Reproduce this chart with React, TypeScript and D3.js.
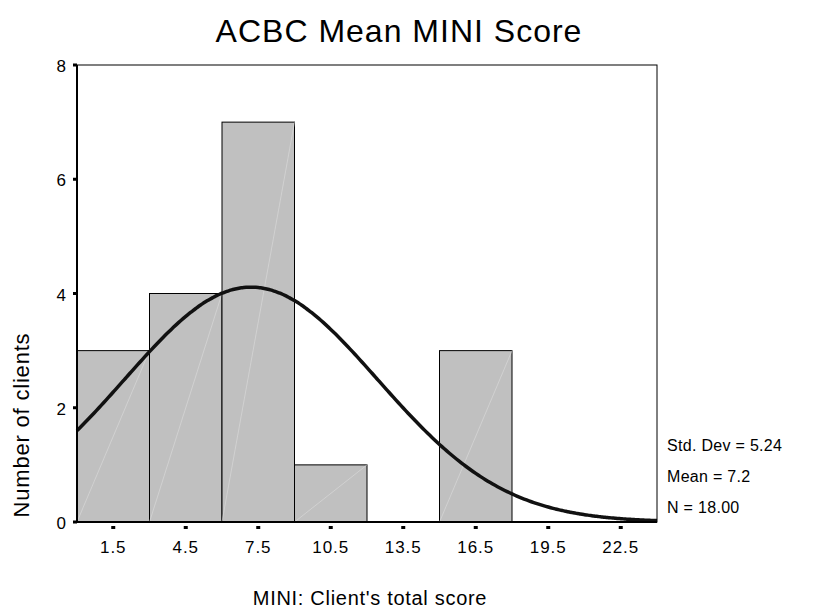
import React from 'react';
import * as d3 from 'd3';

// histogram bins (width 3) and counts
const binStarts = [0, 3, 6, 9, 12, 15, 18, 21];
const counts = [3, 4, 7, 1, 0, 3, 0, 0];
const xTicks = [1.5, 4.5, 7.5, 10.5, 13.5, 16.5, 19.5, 22.5];
const yTicks = [0, 2, 4, 6, 8];
const statLines = ['Std. Dev = 5.24', 'Mean = 7.2', 'N = 18.00'];
const stdDev = 5.24;
const mean = 7.2;
const nCases = 18;
const binWidth = 3;

export default function App() {
  const W = 814, H = 611;
  const box = {left: 77, top: 65, right: 657, bottom: 522};
  const font = 'Liberation Sans, Arial, sans-serif';

  const x = d3.scaleLinear().domain([0, 24]).range([box.left, box.right]);
  const y = d3.scaleLinear().domain([0, 8]).range([box.bottom, box.top]);

  // fitted normal curve from the reported stats
  const dens = (v: number) =>
    (nCases * binWidth) / (stdDev * Math.sqrt(2 * Math.PI)) *
    Math.exp(-0.5 * ((v - mean) / stdDev) ** 2);
  const curvePts = d3.range(0, 24.01, 0.1).map(v => [v, dens(v)] as [number, number]);
  const line = d3.line<[number, number]>().x(d => x(d[0])).y(d => y(d[1])).curve(d3.curveBasis);

  return (
    <svg width={W} height={H} style={{position: 'absolute', left: 0, top: 0, background: '#fff'}}>
      <text x={399} y={42} textAnchor="middle" fontFamily={font} fontSize={32} letterSpacing={1}>ACBC Mean MINI Score</text>

      {binStarts.map((b, i) => counts[i] > 0 && (
        <g key={i}>
          <rect x={x(b)} y={y(counts[i])} width={x(b + binWidth) - x(b)} height={y(0) - y(counts[i])}
            fill="#c0c0c0" stroke="#000" strokeWidth={1} />
          <line x1={x(b)} y1={y(0)} x2={x(b + binWidth)} y2={y(counts[i])} stroke="#dcdcdc" strokeWidth={0.6} />
        </g>
      ))}

      <path d={line(curvePts) || ''} fill="none" stroke="#111" strokeWidth={3.5} />

      <rect x={box.left} y={box.top} width={box.right - box.left} height={box.bottom - box.top}
        fill="none" stroke="#000" strokeWidth={1} />
      <line x1={box.left} y1={box.top} x2={box.left} y2={box.bottom} stroke="#000" strokeWidth={2} />
      <line x1={box.left} y1={box.bottom} x2={box.right} y2={box.bottom} stroke="#000" strokeWidth={2} />

      {yTicks.map(t => (
        <g key={t}>
          <rect x={box.left - 4} y={y(t) - 1.5} width={4} height={3} fill="#000" />
          <text x={66} y={y(t) + 7} textAnchor="end" fontFamily={font} fontSize={17}>{t}</text>
        </g>
      ))}
      {xTicks.map(t => (
        <g key={t}>
          <rect x={x(t) - 2} y={box.bottom + 4} width={4} height={3} fill="#000" />
          <text x={x(t)} y={553} textAnchor="middle" fontFamily={font} fontSize={17} letterSpacing={1}>{t}</text>
        </g>
      ))}

      <text x={370} y={605} textAnchor="middle" fontFamily={font} fontSize={20} letterSpacing={0.7}>MINI: Client's total score</text>
      <text transform={`translate(29,${425}) rotate(-90)`} textAnchor="middle" fontFamily={font} fontSize={22} letterSpacing={0.8}>Number of clients</text>

      {statLines.map((s, i) => (
        <text key={s} x={667} y={451 + i * 31} fontFamily={font} fontSize={16} letterSpacing={0.3}>{s}</text>
      ))}
    </svg>
  );
}
